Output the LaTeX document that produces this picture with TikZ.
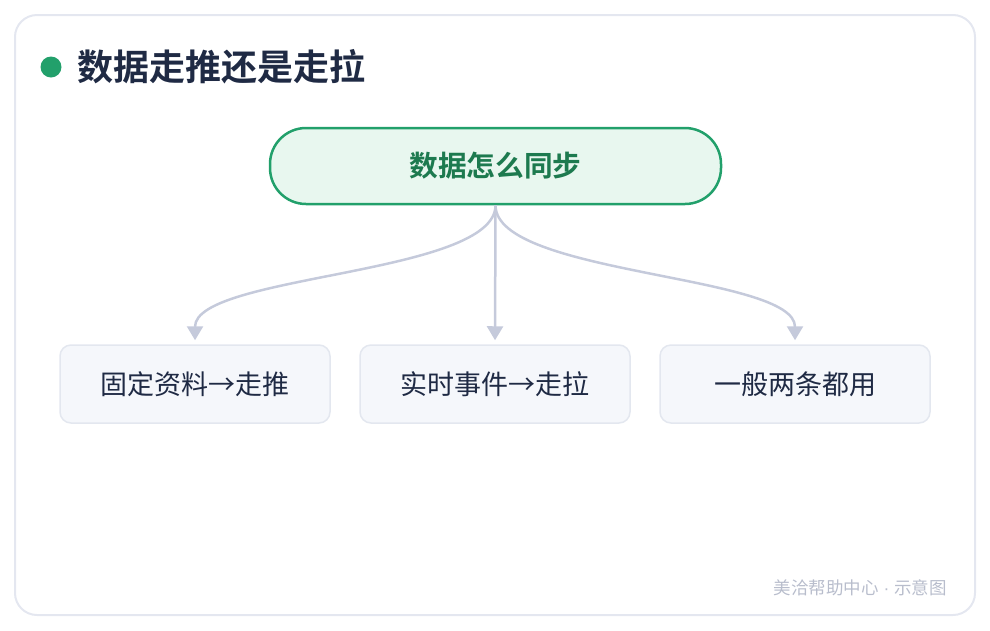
\documentclass[tikz,border=0pt]{standalone}
\usepackage{fontspec}
\setmainfont{Noto Sans CJK SC}[BoldFont={Noto Sans CJK SC Bold}]
\newfontfamily\latinfont{Liberation Sans}
\usetikzlibrary{arrows.meta}
\definecolor{frame}{HTML}{E4E7F0}
\definecolor{dotgreen}{HTML}{22A06B}
\definecolor{titlec}{HTML}{1F2A44}
\definecolor{topfill}{HTML}{E8F7EF}
\definecolor{topdraw}{HTML}{22A06B}
\definecolor{toptext}{HTML}{1D7A4F}
\definecolor{boxfill}{HTML}{F5F7FB}
\definecolor{boxdraw}{HTML}{E3E7EF}
\definecolor{conn}{HTML}{C5CADB}
\definecolor{foot}{HTML}{B8BDCC}
\tikzset{
  topbox/.style={draw=topdraw, fill=topfill, line width=2.5pt, rounded corners=36pt,
    minimum width=451pt, minimum height=76pt, inner sep=0pt,
    font=\fontsize{28.7pt}{32pt}\selectfont\bfseries, text=toptext},
  leafbox/.style={draw=boxdraw, fill=boxfill, line width=1.5pt, rounded corners=11pt,
    minimum width=270pt, minimum height=78pt, inner sep=0pt,
    font=\fontsize{27pt}{30pt}\selectfont, text=titlec},
  connector/.style={draw=conn, line width=2.5pt, -{Triangle[width=16pt,length=14pt]}, shorten >=4pt},
}
\begin{document}
\begin{tikzpicture}[x=1pt,y=-1pt]
\useasboundingbox (0,0) rectangle (990,630);
\node[draw=frame, line width=2pt, rounded corners=22pt, minimum width=960pt, minimum height=600pt, inner sep=0pt] (frame) at (495,315) {};
\node[circle, fill=dotgreen, minimum size=21pt, inner sep=0pt] (dot) at (51,67) {};
\node[anchor=west, inner sep=0pt, text=titlec, font=\fontsize{36pt}{40pt}\selectfont\bfseries] (title) at (77,67) {数据走推还是走拉};
\node[topbox] (top) at (495.5,166) {数据怎么同步};
\node[leafbox] (b1) at (195,384) {固定资料→走推};
\node[leafbox] (b2) at (495,384) {实时事件→走拉};
\node[leafbox] (b3) at (795,384) {一般两条都用};
\draw[connector] (top.south) .. controls +(0,70) and +(0,-70) .. (b1.north);
\draw[connector] (top.south) -- (b2.north);
\draw[connector] (top.south) .. controls +(0,70) and +(0,-70) .. (b3.north);
\node[anchor=east, inner sep=0pt, text=foot, font=\fontsize{17.5pt}{20pt}\selectfont] (footer) at (947,588) {美洽帮助中心{\latinfont\ ·\ }示意图};
\end{tikzpicture}
\end{document}
